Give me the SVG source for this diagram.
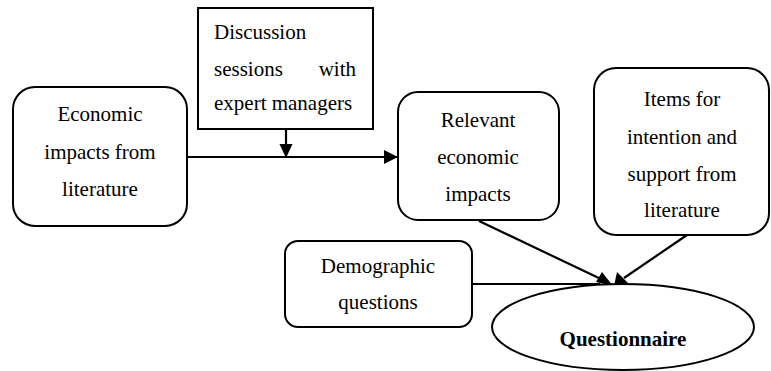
<svg xmlns="http://www.w3.org/2000/svg" width="771" height="371" viewBox="0 0 771 371">
<style>
.box{fill:#fff;stroke:#000;stroke-width:2}
.t{font-family:"Liberation Serif",serif;font-size:21px;fill:#000;text-anchor:middle}
.tl{font-family:"Liberation Serif",serif;font-size:21px;fill:#000}
.b{font-weight:bold}
.c{stroke:#000;stroke-width:2.2;fill:none;marker-end:url(#ah)}
</style>
<defs>
<marker id="ah" markerWidth="8" markerHeight="8" refX="7" refY="4" orient="auto" markerUnits="userSpaceOnUse" viewBox="0 0 8 8">
<path d="M0,0 L8,4 L0,8 z" fill="#000"/>
</marker>
</defs>
<rect width="771" height="371" fill="#fff"/>
<g id="connectors">
<line class="c" x1="187" y1="157" x2="397" y2="157" style="marker-end:none"/>
<path d="M384,150 L398,157 L384,164 z" fill="#000"/>
<line x1="286" y1="130" x2="286" y2="146" stroke="#000" stroke-width="2.2"/>
<path d="M279.5,144 L286,158 L292.5,144 z" fill="#000"/>
<line x1="472" y1="284" x2="600" y2="284" stroke="#000" stroke-width="2.2"/>
<line x1="479" y1="221" x2="603" y2="280" stroke="#000" stroke-width="2.2"/>
<path d="M596,282 L613,286 L602,272 z" fill="#000"/>
<line x1="687" y1="235" x2="624" y2="278" stroke="#000" stroke-width="2.2"/>
<path d="M617,272 L614,286 L628,283 z" fill="#000"/>
</g>
<g id="economic">
<rect class="box" x="13" y="87" width="174" height="139" rx="22"/>
<text class="t" x="100" y="121">Economic</text>
<text class="t" x="100" y="159">impacts from</text>
<text class="t" x="100" y="196">literature</text>
</g>
<g id="discussion">
<rect class="box" x="198" y="8" width="175" height="121"/>
<text class="tl" x="214" y="39">Discussion</text>
<text class="tl" x="214" y="76">sessions</text>
<text class="tl" x="356" y="76" text-anchor="end">with</text>
<text class="tl" x="214" y="110">expert managers</text>
</g>
<g id="relevant">
<rect class="box" x="398" y="92" width="161" height="128" rx="20"/>
<text class="t" x="478" y="127">Relevant</text>
<text class="t" x="478" y="164">economic</text>
<text class="t" x="478" y="201">impacts</text>
</g>
<g id="items">
<rect class="box" x="594" y="68" width="175" height="167" rx="22"/>
<text class="t" x="682" y="106">Items for</text>
<text class="t" x="682" y="144">intention and</text>
<text class="t" x="682" y="181">support from</text>
<text class="t" x="682" y="217">literature</text>
</g>
<g id="demographic">
<rect class="box" x="285" y="241" width="187" height="86" rx="13"/>
<text class="t" x="378" y="273">Demographic</text>
<text class="t" x="378" y="309">questions</text>
</g>
<g id="questionnaire">
<ellipse class="box" cx="623" cy="327" rx="131" ry="43"/>
<text class="t b" x="623" y="346">Questionnaire</text>
</g>
</svg>
